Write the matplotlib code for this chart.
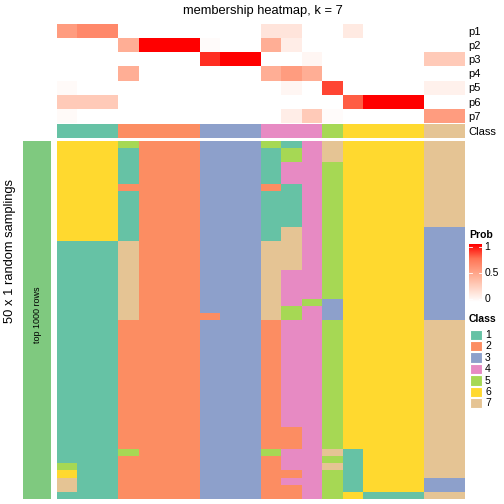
import numpy as np
import matplotlib
matplotlib.use("Agg")
import matplotlib.pyplot as plt
from matplotlib.colors import ListedColormap, LinearSegmentedColormap, BoundaryNorm
from matplotlib.patches import Rectangle

plt.rcParams['font.family'] = ['Liberation Sans', 'DejaVu Sans']

# class of each of the 20 samples (columns)
sample_class = [1, 1, 1, 2, 2, 2, 2, 3, 3, 3, 4, 4, 4, 5, 6, 6, 6, 6, 7, 7]

# membership probabilities p1..p7 per sample
prob_rows = ['p1', 'p2', 'p3', 'p4', 'p5', 'p6', 'p7']
p1 = [0.55, 0.65, 0.65, 0, 0, 0, 0, 0, 0, 0, 0.15, 0.15, 0, 0, 0.12, 0, 0, 0, 0, 0]
p2 = [0, 0, 0, 0.45, 1, 1, 1, 0.02, 0, 0, 0.45, 0.1, 0, 0, 0, 0, 0, 0, 0, 0]
p3 = [0, 0, 0, 0, 0, 0, 0, 0.9, 1, 1, 0, 0, 0.05, 0, 0, 0, 0, 0, 0.3, 0.3]
p4 = [0, 0, 0, 0.45, 0, 0, 0, 0, 0, 0, 0.45, 0.55, 0.45, 0, 0, 0, 0, 0, 0, 0]
p5 = [0.03, 0, 0, 0, 0, 0, 0, 0, 0, 0, 0, 0.05, 0, 0.85, 0, 0, 0, 0, 0.08, 0.08]
p6 = [0.3, 0.3, 0.3, 0, 0, 0, 0, 0, 0, 0, 0, 0, 0, 0, 0.8, 1, 1, 1, 0, 0]
p7 = [0.03, 0, 0, 0, 0, 0, 0, 0, 0, 0, 0, 0.1, 0.3, 0.02, 0, 0, 0, 0, 0.55, 0.55]

# class assigned in each of the 50 samplings, per sample, as (class, number of rows) runs
sample_runs = [
    [(6, 14), (1, 31), (5, 1), (6, 1), (7, 2), (1, 1)],
    [(6, 14), (1, 36)],
    [(6, 14), (1, 36)],
    [(5, 1), (1, 5), (2, 1), (1, 7), (7, 11), (2, 18), (5, 1), (2, 6)],
    [(2, 50)],
    [(2, 50)],
    [(2, 50)],
    [(3, 24), (2, 1), (3, 25)],
    [(3, 50)],
    [(3, 50)],
    [(5, 1), (1, 5), (2, 1), (1, 7), (7, 11), (2, 18), (5, 1), (2, 6)],
    [(1, 1), (5, 2), (4, 3), (1, 6), (7, 6), (4, 5), (5, 2), (4, 15), (2, 3), (4, 3), (2, 1), (4, 1), (2, 2)],
    [(4, 22), (5, 1), (4, 27)],
    [(7, 3), (5, 19), (3, 3), (5, 18), (7, 1), (5, 1), (7, 1), (5, 4)],
    [(6, 43), (1, 6), (6, 1)],
    [(6, 49), (1, 1)],
    [(6, 49), (1, 1)],
    [(6, 49), (1, 1)],
    [(7, 12), (3, 13), (7, 22), (3, 2), (7, 1)],
    [(7, 12), (3, 13), (7, 22), (3, 2), (7, 1)],
]

class_colors = ['#66C2A5', '#FC8D62', '#8DA0CB', '#E78AC3', '#A6D854', '#FFD92F', '#E5C494']
class_cmap = ListedColormap(class_colors)
class_norm = BoundaryNorm(np.arange(0.5, 8.5, 1), 7)
prob_cmap = LinearSegmentedColormap.from_list(
    'prob', [(0, '#FFFFFF'), (0.25, '#FFD3C3'), (0.5, '#FFA68A'), (0.75, '#FF7556'), (1, '#FF0000')])

membership = np.array([np.repeat([c for c, n in runs], [n for c, n in runs]) for runs in sample_runs]).T
prob = np.array([p1, p2, p3, p4, p5, p6, p7])

W = H = 504
fig = plt.figure(figsize=(W / 100, H / 100), dpi=100)

def box(x0, y0, x1, y1):
    return [x0 / W, 1 - y1 / H, (x1 - x0) / W, (y1 - y0) / H]

def bare(ax):
    ax.set_xticks([])
    ax.set_yticks([])
    for s in ax.spines.values():
        s.set_visible(False)

left, right = 57, 465

# probability rows
ax_p = fig.add_axes(box(left, 24, right, 122.7))
ax_p.imshow(prob, cmap=prob_cmap, vmin=0, vmax=1, aspect='auto', interpolation='nearest')
bare(ax_p)
ax_p.set_yticks(range(7))
ax_p.set_yticklabels(prob_rows, fontsize=8)
ax_p.yaxis.tick_right()
ax_p.tick_params(axis='y', length=0, pad=2.5)

# class row
ax_c = fig.add_axes(box(left, 123.7, right, 137.7))
ax_c.imshow(np.array([sample_class]), cmap=class_cmap, norm=class_norm, aspect='auto', interpolation='nearest')
bare(ax_c)
ax_c.set_yticks([0])
ax_c.set_yticklabels(['Class'], fontsize=8)
ax_c.yaxis.tick_right()
ax_c.tick_params(axis='y', length=0, pad=2.5)

# main membership heatmap
ax_m = fig.add_axes(box(left, 141, right, 499))
ax_m.imshow(membership, cmap=class_cmap, norm=class_norm, aspect='auto', interpolation='nearest')
bare(ax_m)

# left row annotation
ax_l = fig.add_axes(box(23, 141, 51, 499))
ax_l.set_facecolor('#7FC97F')
bare(ax_l)
ax_l.text(0.5, 0.5 + 5 / 358, 'top 1000 rows', rotation=90, ha='center', va='center', fontsize=6.5,
          transform=ax_l.transAxes)

fig.text(10 / W, 1 - 251 / H, '50 x 1 random samplings', rotation=90, ha='center', va='center', fontsize=9.3)
fig.text(263 / W, 1 - 11 / H, 'membership heatmap, k = 7', ha='center', va='center', fontsize=9.3)

# Prob legend
fig.text(469 / W, 1 - 235 / H, 'Prob', ha='left', va='center', fontsize=7.5, fontweight='bold')
ax_cb = fig.add_axes(box(469, 244, 482, 302))
grad = np.linspace(1, 0, 100).reshape(-1, 1)
ax_cb.imshow(grad, cmap=prob_cmap, vmin=0, vmax=1, aspect='auto', extent=[0, 1, 0, 1])
bare(ax_cb)
for v, lab in [(1, '1'), (0.5, '0.5'), (0, '0')]:
    yy = 0.05 + 0.9 * v
    ax_cb.plot([0, 0.2], [yy, yy], color='white', lw=0.6)
    ax_cb.plot([0.8, 1], [yy, yy], color='white', lw=0.6)
    ax_cb.text(1.2, yy, lab, ha='left', va='center', fontsize=7.5, transform=ax_cb.transAxes)
ax_cb.set_xlim(0, 1)
ax_cb.set_ylim(0, 1)

# Class legend
fig.text(469 / W, 1 - 319 / H, 'Class', ha='left', va='center', fontsize=7.5, fontweight='bold')
for i, col in enumerate(class_colors):
    y0 = 329.5 + i * 11.4
    fig.patches.append(Rectangle((469.5 / W, 1 - (y0 + 10.4) / H), 12 / W, 10.4 / H, facecolor=col,
                                 edgecolor='white', lw=0.8, transform=fig.transFigure))
    fig.text(485 / W, 1 - (y0 + 5.4) / H, str(i + 1), ha='left', va='center', fontsize=7.5)

fig.savefig('out.png', dpi=100)
